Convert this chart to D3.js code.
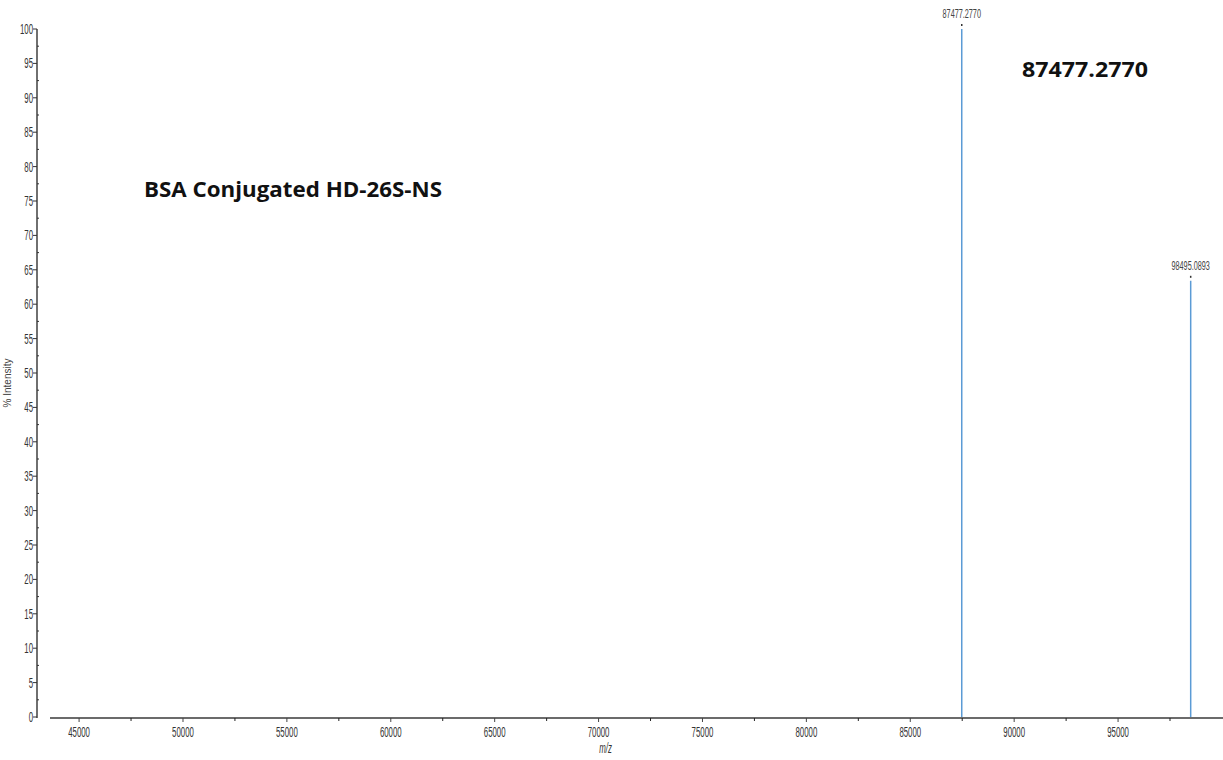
<!DOCTYPE html>
<html>
<head>
<meta charset="utf-8">
<script src="https://cdn.jsdelivr.net/npm/d3@7"></script>
<style>
  html, body { margin: 0; padding: 0; background: #fff; }
  svg { display: block; }
</style>
</head>
<body>
<svg id="chart" width="1223" height="760"></svg>
<script>
// Deconvoluted mass spectrum: peak centroids (m/z) and relative intensities (%)
const peakMz = [87477.2770, 98495.0893];
const peakIntensity = [100, 63.4];
const peakLabels = ["87477.2770", "98495.0893"];

// Axis ticks
const xMajorTicks = [45000, 50000, 55000, 60000, 65000, 70000, 75000, 80000, 85000, 90000, 95000];
const xMinorTicks = [47500, 52500, 57500, 62500, 67500, 72500, 77500, 82500, 87500, 92500, 97500];
const yMajorTicks = [0, 5, 10, 15, 20, 25, 30, 35, 40, 45, 50, 55, 60, 65, 70, 75, 80, 85, 90, 95, 100];
const yMinorTicks = [2.5, 7.5, 12.5, 17.5, 22.5, 27.5, 32.5, 37.5, 42.5, 47.5, 52.5, 57.5, 62.5, 67.5, 72.5, 77.5, 82.5, 87.5, 92.5, 97.5];

// Annotations
const sampleTitle = "BSA Conjugated HD-26S-NS";
const basePeakText = "87477.2770";
const xAxisTitle = "m/z";
const yAxisTitle = "% Intensity";

const svg = d3.select("#chart");

const x = d3.scaleLinear().domain([43600, 100050]).range([50, 1223]);
const y = d3.scaleLinear().domain([0, 100]).range([717, 29]);

const narrow = "'Liberation Sans', Arial, sans-serif";
const squeeze = 0.56;

// narrow-looking label helper: horizontally compressed text
function condensedText(g, tx, ty, str, size, anchor, opts = {}) {
  const t = g.append("text")
    .attr("transform", `translate(${tx},${ty}) scale(${squeeze},1)`)
    .attr("text-anchor", anchor)
    .attr("font-family", narrow)
    .attr("font-size", size)
    .attr("fill", opts.fill || "#333")
    .text(str);
  if (opts.italic) t.attr("font-style", "italic");
  return t;
}

// ---- X axis ----
const gx = svg.append("g");
gx.append("line")
  .attr("x1", x.range()[0]).attr("x2", x.range()[1])
  .attr("y1", y(0) + 1).attr("y2", y(0) + 1)
  .attr("stroke", "#6b6b6b").attr("stroke-width", 2);
xMajorTicks.forEach(v => {
  gx.append("line")
    .attr("x1", x(v)).attr("x2", x(v))
    .attr("y1", y(0) + 1).attr("y2", y(0) + 5)
    .attr("stroke", "#444").attr("stroke-width", 1);
  condensedText(gx, x(v), y(0) + 20, v.toString(), 14, "middle");
});
xMinorTicks.forEach(v => {
  gx.append("line")
    .attr("x1", x(v)).attr("x2", x(v))
    .attr("y1", y(0) + 1).attr("y2", y(0) + 4)
    .attr("stroke", "#222").attr("stroke-width", 1);
});
condensedText(gx, (x(45000) + x(95000)) / 2 + 7, 753, xAxisTitle, 14, "middle", { italic: true });

// ---- Y axis ----
const gy = svg.append("g");
const axisX = 37;
gy.append("line")
  .attr("x1", axisX).attr("x2", axisX)
  .attr("y1", y(100)).attr("y2", y(0) + 1)
  .attr("stroke", "#222").attr("stroke-width", 1.3);
yMajorTicks.forEach(v => {
  gy.append("line")
    .attr("x1", axisX - 4).attr("x2", axisX)
    .attr("y1", y(v)).attr("y2", y(v))
    .attr("stroke", "#333").attr("stroke-width", 1);
  condensedText(gy, axisX - 4, y(v) + 5, v.toString(), 14, "end");
});
yMinorTicks.forEach(v => {
  gy.append("line")
    .attr("x1", axisX).attr("x2", axisX + 2)
    .attr("y1", y(v)).attr("y2", y(v))
    .attr("stroke", "#333").attr("stroke-width", 1);
});
gy.append("text")
  .attr("transform", `translate(11,${(y(0) + y(100)) / 2 + 10}) rotate(-90)`)
  .attr("text-anchor", "middle")
  .attr("font-family", narrow)
  .attr("font-size", 10)
  .attr("fill", "#444")
  .text(yAxisTitle);

// ---- Peaks ----
const peaks = peakMz.map((m, i) => ({ m, v: peakIntensity[i], label: peakLabels[i] }));
const gp = svg.append("g");
gp.selectAll("line.peak")
  .data(peaks)
  .join("line")
  .attr("class", "peak")
  .attr("x1", d => x(d.m)).attr("x2", d => x(d.m))
  .attr("y1", y(0)).attr("y2", d => y(d.v))
  .attr("stroke", "#5b9bd5").attr("stroke-width", 1.5);
gp.selectAll("rect.mark")
  .data(peaks)
  .join("rect")
  .attr("class", "mark")
  .attr("x", d => x(d.m) - 0.75).attr("y", d => y(d.v) - 5)
  .attr("width", 1.5).attr("height", 2)
  .attr("fill", "#333");
peaks.forEach(d => {
  condensedText(gp, x(d.m), y(d.v) - 11, d.label, 13, "middle", { fill: "#444" });
});

// ---- Annotations ----
svg.append("text")
  .attr("x", 144).attr("y", 197)
  .attr("font-family", "'Open Sans', Lato, sans-serif")
  .attr("font-weight", "bold")
  .attr("font-size", 21)
  .attr("fill", "#111")
  .attr("textLength", 298)
  .attr("lengthAdjust", "spacingAndGlyphs")
  .text(sampleTitle);
svg.append("text")
  .attr("x", 1022).attr("y", 77)
  .attr("font-family", "'Open Sans', Lato, sans-serif")
  .attr("font-weight", "bold")
  .attr("font-size", 21)
  .attr("fill", "#111")
  .attr("textLength", 126)
  .attr("lengthAdjust", "spacingAndGlyphs")
  .text(basePeakText);
</script>
</body>
</html>
